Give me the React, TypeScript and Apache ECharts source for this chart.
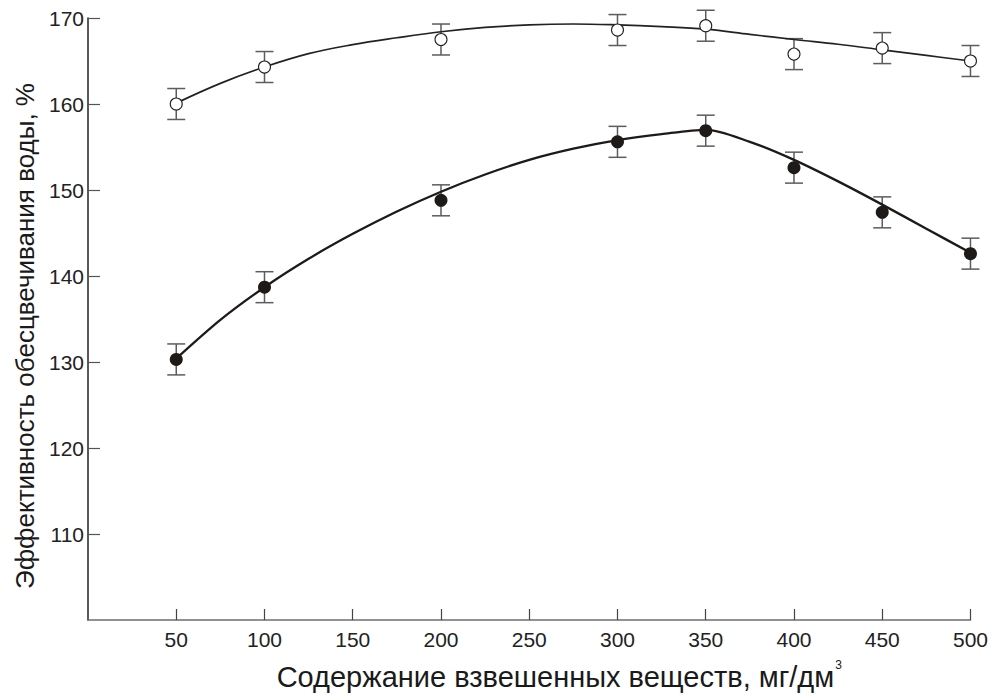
import React, { useEffect, useRef } from "react";
import * as echarts from "echarts";

// Measured points
const X_VALUES = [50, 100, 200, 300, 350, 400, 450, 500];
const OPEN_Y = [160.0, 164.3, 167.5, 168.6, 169.1, 165.8, 166.5, 165.0];
const OPEN_ERR = [1.8, 1.8, 1.8, 1.8, 1.8, 1.8, 1.8, 1.8];
const FILLED_Y = [130.3, 138.7, 148.8, 155.6, 156.9, 152.6, 147.4, 142.6];
const FILLED_ERR = [1.8, 1.8, 1.8, 1.8, 1.8, 1.8, 1.8, 1.8];

// Fitted curves
const CURVE_X = [50, 75, 100, 125, 150, 175, 200, 225, 250, 275, 300, 325, 350, 375, 400, 425, 450, 475, 500];
const OPEN_FIT = [160.1, 162.4, 164.3, 165.85, 166.9, 167.7, 168.4, 168.9, 169.2, 169.3, 169.2, 169.0, 168.7, 168.1, 167.5, 166.95, 166.3, 165.65, 165.0];
const FILLED_FIT = [130.4, 134.9, 138.7, 142.0, 144.9, 147.5, 149.8, 151.8, 153.5, 154.8, 155.8, 156.5, 157.0, 155.6, 153.5, 151.0, 148.3, 145.5, 142.7];

const X_MIN = 0;
const X_MAX = 500;
const X_STEP = 50;
const Y_MIN = 100;
const Y_MAX = 170;
const Y_STEP = 10;

const X_TITLE = "Содержание взвешенных веществ, мг/дм";
const X_TITLE_SUP = "3";
const Y_TITLE = "Эффективность обесцвечивания воды, %";

const FONT = "'Liberation Sans', Arial, Helvetica, sans-serif";

export default function App() {
  const ref = useRef<HTMLDivElement>(null);

  useEffect(() => {
    if (!ref.current) return;
    const chart = echarts.init(ref.current, null, { renderer: "svg" });

    const errData = (ys: number[], errs: number[]) =>
      X_VALUES.map((x, i) => [x, ys[i] - errs[i], ys[i] + errs[i]]);

    const renderErr = (_params: any, api: any) => {
      const x = api.value(0);
      const lo = api.coord([x, api.value(1)]);
      const hi = api.coord([x, api.value(2)]);
      const half = 9;
      const style = { stroke: "#5c5c5c", lineWidth: 1.5 };
      return {
        type: "group",
        children: [
          { type: "line", shape: { x1: lo[0], y1: lo[1], x2: hi[0], y2: hi[1] }, style },
          { type: "line", shape: { x1: lo[0] - half, y1: lo[1], x2: lo[0] + half, y2: lo[1] }, style },
          { type: "line", shape: { x1: hi[0] - half, y1: hi[1], x2: hi[0] + half, y2: hi[1] }, style },
        ],
      };
    };

    chart.setOption({
      animation: false,
      backgroundColor: "#ffffff",
      textStyle: { fontFamily: FONT },
      grid: { left: 88, right: 19, top: 18, bottom: 80, containLabel: false },
      xAxis: {
        type: "value",
        min: X_MIN,
        max: X_MAX,
        interval: X_STEP,
        name: `${X_TITLE}{sup|${X_TITLE_SUP}}`,
        nameLocation: "middle",
        nameGap: 39,
        nameTextStyle: {
          fontFamily: FONT,
          fontSize: 29,
          color: "#1a1a1a",
          padding: [0, 0, 0, 60],
          rich: {
            sup: { fontSize: 12, color: "#1a1a1a", padding: [0, 0, 24, 1], fontFamily: FONT },
          },
        },
        axisLine: { show: true, lineStyle: { color: "#6e6e6e", width: 1.5 } },
        axisTick: { show: true, inside: true, length: 11, lineStyle: { color: "#444", width: 1.2 } },
        axisLabel: { showMinLabel: false, fontSize: 21, color: "#222", margin: 9, fontFamily: FONT },
        splitLine: { show: false },
      },
      yAxis: {
        type: "value",
        min: Y_MIN,
        max: Y_MAX,
        interval: Y_STEP,
        name: Y_TITLE,
        nameLocation: "middle",
        nameGap: 49,
        nameRotate: 90,
        nameTextStyle: {
          fontFamily: FONT,
          fontSize: 26,
          color: "#1a1a1a",
          padding: [0, 34, 0, 0],
        },
        axisLine: { show: true, lineStyle: { color: "#222", width: 1.5 } },
        axisTick: { show: true, inside: true, length: 12, lineStyle: { color: "#555", width: 1.2 } },
        axisLabel: { showMinLabel: false, fontSize: 21, color: "#222", margin: 4, fontFamily: FONT },
        splitLine: { show: false },
      },
      series: [
        {
          type: "custom",
          name: "err-open",
          renderItem: renderErr,
          data: errData(OPEN_Y, OPEN_ERR),
          encode: { x: 0, y: [1, 2] },
          z: 2,
          silent: true,
        },
        {
          type: "custom",
          name: "err-filled",
          renderItem: renderErr,
          data: errData(FILLED_Y, FILLED_ERR),
          encode: { x: 0, y: [1, 2] },
          z: 2,
          silent: true,
        },
        {
          type: "line",
          name: "fit-open",
          data: CURVE_X.map((x, i) => [x, OPEN_FIT[i]]),
          smooth: 0.4,
          showSymbol: false,
          lineStyle: { color: "#222", width: 1.7 },
          z: 3,
          silent: true,
        },
        {
          type: "line",
          name: "fit-filled",
          data: CURVE_X.map((x, i) => [x, FILLED_FIT[i]]),
          smooth: 0.3,
          showSymbol: false,
          lineStyle: { color: "#1e1a17", width: 2.3 },
          z: 3,
          silent: true,
        },
        {
          type: "scatter",
          name: "open",
          data: X_VALUES.map((x, i) => [x, OPEN_Y[i]]),
          symbol: "circle",
          symbolSize: 12,
          itemStyle: { color: "#ffffff", borderColor: "#222", borderWidth: 1.1, opacity: 1 },
          z: 4,
          silent: true,
        },
        {
          type: "scatter",
          name: "filled",
          data: X_VALUES.map((x, i) => [x, FILLED_Y[i]]),
          symbol: "circle",
          symbolSize: 13,
          itemStyle: { color: "#1e1a17", opacity: 1 },
          z: 4,
          silent: true,
        },
      ],
    });

    return () => chart.dispose();
  }, []);

  return (
    <div
      ref={ref}
      style={{ position: "absolute", left: 0, top: 0, width: 991, height: 700 }}
    />
  );
}
